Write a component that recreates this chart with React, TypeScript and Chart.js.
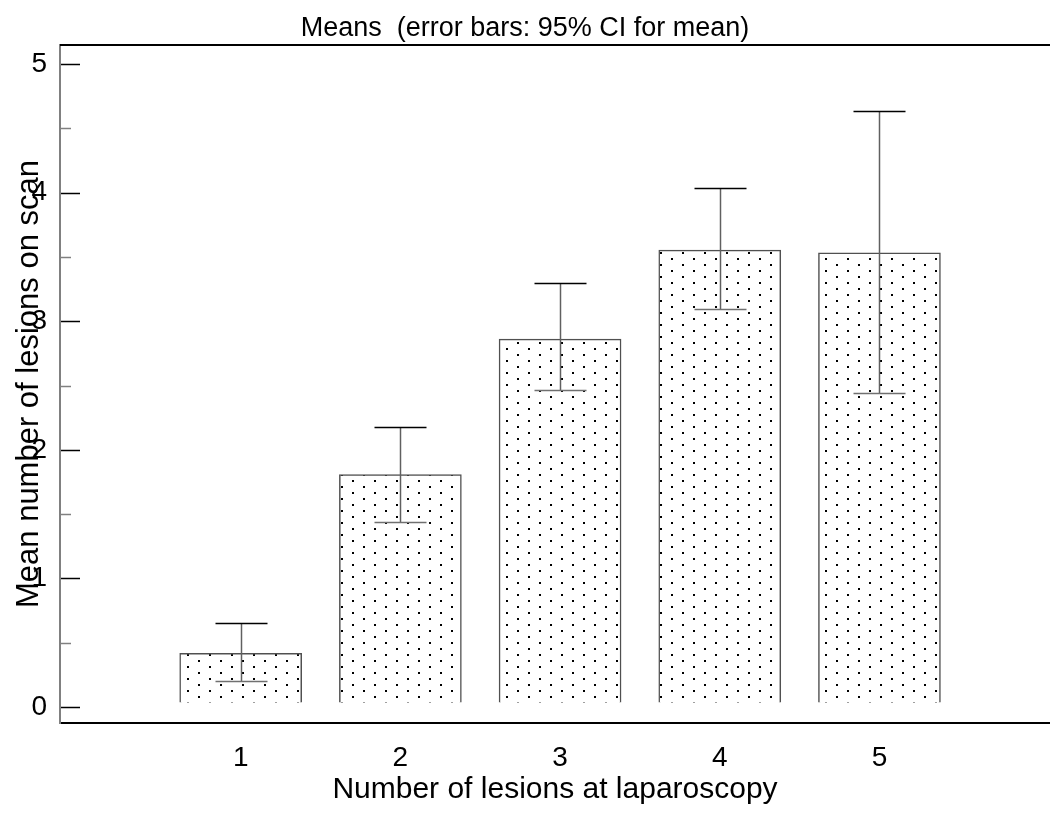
import React, { useEffect, useRef } from "react";
import { Chart, registerables } from "chart.js";

Chart.register(...registerables);

// ---- data ----
const categories = [1, 2, 3, 4, 5];
const xTickLabels = ["1", "2", "3", "4", "5"];
const means = [0.418, 1.808, 2.861, 3.553, 3.532];
const ciLow = [0.205, 1.44, 2.469, 3.094, 2.443];
const ciHigh = [0.651, 2.174, 3.294, 4.033, 4.637];
const yTicks = [0, 1, 2, 3, 4, 5];
const yMinorTicks = [0.5, 1.5, 2.5, 3.5, 4.5];
const BAR_BASE = 0.035;

const TITLE = "Means  (error bars: 95% CI for mean)";
const X_TITLE = "Number of lesions at laparoscopy";
const Y_TITLE = "Mean number of lesions on scan";

const FONT = "'Liberation Sans', Arial, sans-serif";

function makeDotPattern(ctx: CanvasRenderingContext2D) {
  const c = document.createElement("canvas");
  c.width = 22;
  c.height = 12;
  const g = c.getContext("2d")!;
  g.fillStyle = "#ffffff";
  g.fillRect(0, 0, 22, 12);
  g.fillStyle = "#000000";
  g.fillRect(0, 0, 2, 2);
  g.fillRect(11, 6, 2, 2);
  return ctx.createPattern(c, "repeat");
}

const decorPlugin = {
  id: "decor",
  afterDatasetsDraw(chart: any) {
    const ctx = chart.ctx as CanvasRenderingContext2D;
    const xs = chart.scales.x;
    const ys = chart.scales.y;
    ctx.save();
    categories.forEach((c, i) => {
      const x = Math.round(xs.getPixelForValue(c)) + 0.5;
      const yHi = Math.round(ys.getPixelForValue(ciHigh[i])) + 0.5;
      const yLo = Math.round(ys.getPixelForValue(ciLow[i])) + 0.5;
      const half = 26;
      ctx.strokeStyle = "#606060";
      ctx.lineWidth = 1.5;
      ctx.beginPath();
      ctx.moveTo(x, yHi);
      ctx.lineTo(x, yLo);
      ctx.stroke();
      ctx.strokeStyle = "#000000";
      ctx.beginPath();
      ctx.moveTo(x - half, yHi);
      ctx.lineTo(x + half, yHi);
      ctx.stroke();
      ctx.strokeStyle = "#707070";
      ctx.beginPath();
      ctx.moveTo(x - half, yLo);
      ctx.lineTo(x + half, yLo);
      ctx.stroke();
    });
    ctx.restore();
  },
  afterDraw(chart: any) {
    const ctx = chart.ctx as CanvasRenderingContext2D;
    const ys = chart.scales.y;
    const area = chart.chartArea;
    ctx.save();
    // top frame line
    ctx.strokeStyle = "#000000";
    ctx.lineWidth = 2;
    ctx.beginPath();
    ctx.moveTo(area.left, area.top);
    ctx.lineTo(area.right, area.top);
    ctx.stroke();
    // inward tick marks
    ctx.lineWidth = 1.5;
    yTicks.forEach((v) => {
      const y = Math.round(ys.getPixelForValue(v)) + 0.5;
      ctx.strokeStyle = "#000000";
      ctx.beginPath();
      ctx.moveTo(area.left + 1, y);
      ctx.lineTo(area.left + 20, y);
      ctx.stroke();
    });
    yMinorTicks.forEach((v) => {
      const y = Math.round(ys.getPixelForValue(v)) + 0.5;
      ctx.strokeStyle = "#808080";
      ctx.beginPath();
      ctx.moveTo(area.left + 1, y);
      ctx.lineTo(area.left + 11, y);
      ctx.stroke();
    });
    ctx.restore();
  },
};

export default function App() {
  const ref = useRef<HTMLCanvasElement | null>(null);

  useEffect(() => {
    const canvas = ref.current!;
    const ctx = canvas.getContext("2d")!;
    const pattern = makeDotPattern(ctx);
    const chart = new Chart(canvas, {
      type: "bar",
      data: {
        datasets: [
          {
            data: categories.map((c, i) => ({ x: c, y: means[i] })),
            backgroundColor: pattern as any,
            borderColor: "#505050",
            borderWidth: 1.5,
            barThickness: 122,
            base: BAR_BASE,
          } as any,
        ],
      },
      options: {
        animation: false,
        responsive: true,
        maintainAspectRatio: false,
        layout: { padding: 0 },
        plugins: {
          legend: { display: false },
          tooltip: { enabled: false },
          title: {
            display: true,
            text: TITLE,
            color: "#000",
            font: { family: FONT, size: 27, weight: "normal" },
            padding: { top: 12, bottom: 0.6 },
          },
        },
        scales: {
          x: {
            type: "linear",
            offset: false,
            min: -0.1315,
            max: 6.068,
            grid: { display: false, drawTicks: false, offset: false },
            border: { display: true, color: "#000", width: 2 },
            afterBuildTicks: (s: any) => {
              s.ticks = categories.map((v) => ({ value: v }));
            },
            afterFit: (s: any) => {
              s.height = 106;
            },
            ticks: {
              color: "#000",
              font: { family: FONT, size: 28 },
              padding: 18,
              autoSkip: false,
              maxRotation: 0,
              callback: (_v: any, i: number) => xTickLabels[i],
            },
            title: {
              display: true,
              text: X_TITLE,
              color: "#000",
              font: { family: FONT, size: 30 },
              padding: { top: 0, bottom: 21 },
            },
          },
          y: {
            type: "linear",
            min: -0.1244,
            max: 5.148,
            grid: { display: false, drawTicks: false },
            border: { display: true, color: "#808080", width: 2 },
            afterBuildTicks: (s: any) => {
              s.ticks = yTicks.map((v) => ({ value: v }));
            },
            afterFit: (s: any) => {
              s.width = 60;
            },
            ticks: {
              color: "#000",
              font: { family: FONT, size: 28 },
              padding: 13,
              callback: (v: any) => String(v),
            },
            title: {
              display: true,
              text: Y_TITLE,
              color: "#000",
              font: { family: FONT, size: 31 },
              padding: { top: 11, bottom: 0 },
            },
          },
        },
      },
      plugins: [decorPlugin],
    });
    return () => chart.destroy();
  }, []);

  return (
    <div
      style={{
        position: "absolute",
        left: 0,
        top: 0,
        width: 1050,
        height: 829,
        background: "#fff",
      }}
    >
      <canvas ref={ref} />
    </div>
  );
}
